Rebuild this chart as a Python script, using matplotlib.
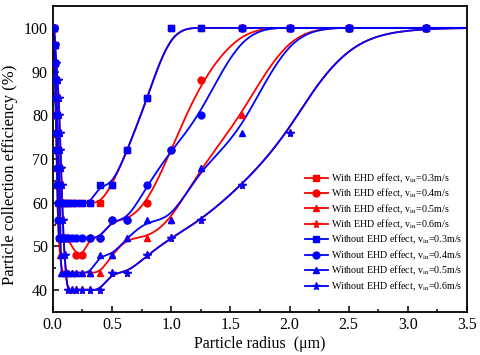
import numpy as np
import matplotlib
matplotlib.use("Agg")
import matplotlib.pyplot as plt

plt.rcParams['font.family'] = ['Liberation Serif', 'DejaVu Serif']
plt.rcParams['mathtext.fontset'] = 'stix'

# ---- data ----
# With EHD effect
r_w03 = [0.01, 0.017, 0.022, 0.027, 0.032, 0.037, 0.042, 0.047, 0.052, 0.057, 0.063, 0.08, 0.1, 0.125, 0.16, 0.2, 0.25, 0.315,
         0.4, 0.5, 0.63, 0.8, 1.0, 1.25, 1.6, 2.0, 2.5, 3.15, 4.0]
e_w03 = [100, 96, 92, 88, 84, 80, 76, 72, 68, 64, 60, 60, 60, 60, 60, 60, 60, 60,
         60, 64, 72, 84, 100, 100, 100, 100, 100, 100, 100]

r_w04 = [0.01, 0.014, 0.018, 0.022, 0.026, 0.03, 0.034, 0.038, 0.042, 0.046, 0.05, 0.055, 0.06,
         0.08, 0.1, 0.125, 0.2, 0.25,
         0.315, 0.4, 0.5, 0.63, 0.8, 1.0, 1.25, 1.6, 2.0, 2.5, 3.15, 4.0]
e_w04 = [100, 96, 92, 88, 84, 80, 76, 72, 68, 64, 60, 56, 52,
         52, 52, 52, 48, 48,
         52, 52, 56, 56, 60, 72, 88, 100, 100, 100, 100, 100]

r_w05 = [0.01, 0.013, 0.016, 0.019, 0.022, 0.025, 0.028, 0.031, 0.034, 0.037, 0.04, 0.045, 0.05, 0.06, 0.08,
         0.1, 0.125, 0.16, 0.2, 0.25, 0.315, 0.4,
         0.5, 0.63, 0.8, 1.0, 1.25, 1.6, 2.0, 2.5, 3.15, 4.0]
e_w05 = [100, 96, 92, 88, 84, 80, 76, 72, 68, 64, 60, 56, 52, 48, 44,
         44, 44, 44, 44, 44, 44, 44,
         48, 52, 52, 56, 68, 80, 100, 100, 100, 100]

r_w06 = [0.01, 0.02, 0.03, 0.04, 0.05, 0.055, 0.06, 0.065, 0.07, 0.075, 0.08, 0.085, 0.09, 0.1, 0.11, 0.125,
         0.16, 0.2, 0.25, 0.315, 0.4,
         0.5, 0.63, 0.8, 1.0, 1.25, 1.6, 2.0, 2.5, 3.15, 4.0]
e_w06 = [100, 96, 92, 88, 84, 80, 76, 72, 68, 64, 60, 56, 52, 48, 44, 40,
         40, 40, 40, 40, 40,
         44, 44, 48, 52, 56, 64, 76, 100, 100, 100]

# Without EHD effect
r_o03 = [0.01, 0.015, 0.02, 0.025, 0.03, 0.035, 0.04, 0.045, 0.05, 0.055, 0.06,
         0.08, 0.1, 0.125, 0.16, 0.2, 0.25, 0.315,
         0.4, 0.5, 0.63, 0.8, 1.0, 1.25, 1.6, 2.0, 2.5, 3.15, 4.0]
e_o03 = [100, 96, 92, 88, 84, 80, 76, 72, 68, 64, 60,
         60, 60, 60, 60, 60, 60, 60,
         64, 64, 72, 84, 100, 100, 100, 100, 100, 100, 100]

r_o04 = [0.01, 0.013, 0.016, 0.019, 0.022, 0.025, 0.028, 0.031, 0.034, 0.037, 0.04, 0.045, 0.05,
         0.063, 0.08, 0.1, 0.125, 0.16, 0.2, 0.25, 0.315, 0.4,
         0.5, 0.63, 0.8, 1.0, 1.25, 1.6, 2.0, 2.5, 3.15, 4.0]
e_o04 = [100, 96, 92, 88, 84, 80, 76, 72, 68, 64, 60, 56, 52,
         52, 52, 52, 52, 52, 52, 52, 52, 52,
         56, 56, 64, 72, 80, 100, 100, 100, 100, 100]

r_o05 = [0.01, 0.015, 0.02, 0.025, 0.03, 0.035, 0.04, 0.045, 0.05, 0.055, 0.06, 0.063, 0.066, 0.068, 0.07,
         0.1, 0.125, 0.16, 0.2, 0.25, 0.315,
         0.4, 0.5, 0.63, 0.8, 1.0, 1.25, 1.6, 2.0, 2.5, 3.15, 4.0]
e_o05 = [100, 96, 92, 88, 84, 80, 76, 72, 68, 64, 60, 56, 52, 48, 44,
         44, 44, 44, 44, 44, 44,
         48, 48, 52, 56, 56, 68, 76, 100, 100, 100, 100]

r_o06 = list(r_w06)
e_o06 = list(e_w06)

labels = [r'With EHD effect, v$_{\rm in}$=0.3m/s', r'With EHD effect, v$_{\rm in}$=0.4m/s',
          r'With EHD effect, v$_{\rm in}$=0.5m/s', r'With EHD effect, v$_{\rm in}$=0.6m/s',
          r'Without EHD effect, v$_{\rm in}$=0.3m/s', r'Without EHD effect, v$_{\rm in}$=0.4m/s',
          r'Without EHD effect, v$_{\rm in}$=0.5m/s', r'Without EHD effect, v$_{\rm in}$=0.6m/s']

x_ticks = [0.0, 0.5, 1.0, 1.5, 2.0, 2.5, 3.0, 3.5]
y_ticks = [40, 50, 60, 70, 80, 90, 100]


def bspline(xs, ys, k=3, num=800):
    P = np.column_stack([xs, ys]).astype(float)
    n = len(P)
    t = np.concatenate([np.zeros(k + 1), np.arange(1, n - k), np.full(k + 1, n - k)]).astype(float)
    u = np.linspace(0, n - k, num)
    N = np.zeros((num, len(t) - 1))
    for i in range(len(t) - 1):
        N[:, i] = ((t[i] <= u) & (u < t[i + 1])).astype(float)
    N[-1, :] = 0
    N[-1, n - 1] = 1
    for d in range(1, k + 1):
        Nn = np.zeros((num, len(t) - 1 - d))
        for i in range(len(t) - 1 - d):
            val = np.zeros(num)
            d1 = t[i + d] - t[i]
            if d1 > 0:
                val += (u - t[i]) / d1 * N[:, i]
            d2 = t[i + d + 1] - t[i + 1]
            if d2 > 0:
                val += (t[i + d + 1] - u) / d2 * N[:, i + 1]
            Nn[:, i] = val
        N = Nn
    C = N @ P
    return C[:, 0], C[:, 1]


fig = plt.figure(figsize=(4.8, 3.55), dpi=100)
ax = fig.add_axes([0.110, 0.121, 0.863, 0.862])

series = [
    (r_w03, e_w03, 'red', 's', 8.0),
    (r_w04, e_w04, 'red', 'o', 8.0),
    (r_w05, e_w05, 'red', '^', 8.0),
    (r_w06, e_w06, 'red', '*', 9.5),
    (r_o03, e_o03, 'blue', 's', 8.0),
    (r_o04, e_o04, 'blue', 'o', 8.0),
    (r_o05, e_o05, 'blue', '^', 8.0),
    (r_o06, e_o06, 'blue', '*', 9.5),
]
handles = []
for (xs, ys, c, m, ms), lab in zip(series, labels):
    bx, by = bspline(xs, ys)
    ax.plot(bx, by, color=c, lw=1.3, zorder=2)
    ax.plot(xs, ys, linestyle='none', marker=m, color=c, ms=ms * 0.62, zorder=3)
    h, = ax.plot([], [], color=c, lw=1.3, marker=m, ms=ms * 0.62, label=lab)
    handles.append(h)

ax.set_xlim(0, 3.5)
ax.set_ylim(35, 105)
ax.set_xticks(x_ticks)
ax.set_xticklabels([f'{v:.1f}' for v in x_ticks])
ax.set_yticks(y_ticks)
ax.set_xticks(np.arange(0.25, 3.5, 0.5), minor=True)
ax.set_yticks(np.arange(45, 105, 10), minor=True)
ax.tick_params(which='both', direction='in', top=False, right=False, labelsize=11.5, width=1.1)
ax.tick_params(which='major', length=4)
ax.tick_params(which='minor', length=2.5)
for s in ax.spines.values():
    s.set_linewidth(1.3)

ax.set_xlabel('Particle radius  (μm)', fontsize=11.5, labelpad=2)
ax.set_ylabel('Particle collection efficiency (%)', fontsize=12, labelpad=3)
ax.yaxis.set_label_coords(-0.085, 0.45)

ax.legend(handles=handles, loc='lower right', frameon=False, fontsize=7.2,
          handlelength=2.3, handletextpad=0.3, labelspacing=0.2,
          borderaxespad=0.3, bbox_to_anchor=(1.005, 0.04))

fig.savefig('out.png', dpi=100)
